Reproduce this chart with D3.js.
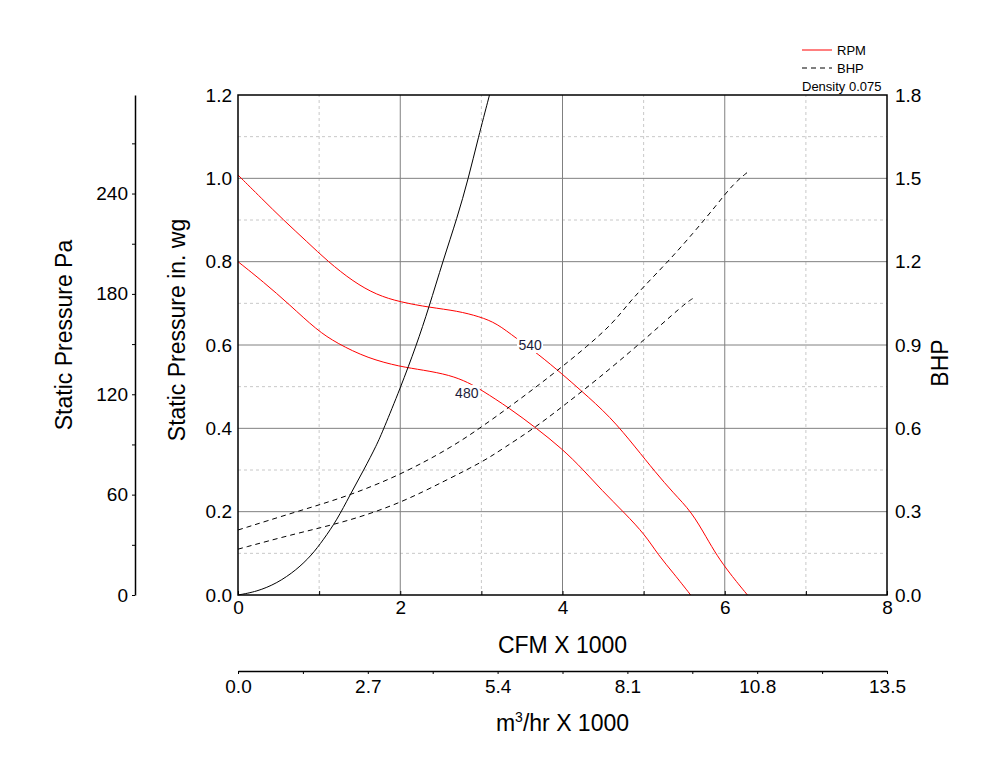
<!DOCTYPE html>
<html>
<head>
<meta charset="utf-8">
<script src="https://d3js.org/d3.v7.min.js"></script>
<style>
body { margin: 0; background: #fff; }
text { font-family: "Liberation Sans", Arial, sans-serif; }
</style>
</head>
<body>
<svg id="drawing_region"></svg>
<script>
// fan curves
const cfm540 = [0, 0.29, 0.56, 0.85, 1.11, 1.42, 1.71, 2.0, 2.37, 2.70, 2.98, 3.19, 3.43, 3.69, 4.01, 4.22, 4.59, 4.91, 5.14, 5.37, 5.59, 5.78, 5.90, 6.06, 6.28];
const sp540 = [1.008, 0.952, 0.90, 0.848, 0.80, 0.752, 0.72, 0.703, 0.69, 0.682, 0.668, 0.652, 0.616, 0.58, 0.528, 0.492, 0.428, 0.352, 0.296, 0.244, 0.2, 0.136, 0.096, 0.052, 0];

const cfm480 = [0, 0.31, 0.64, 0.97, 1.22, 1.6, 2.0, 2.28, 2.61, 2.84, 3.0, 3.35, 3.68, 3.99, 4.26, 4.48, 4.77, 5.02, 5.18, 5.37, 5.58];
const sp480 = [0.80, 0.752, 0.696, 0.636, 0.604, 0.568, 0.548, 0.54, 0.528, 0.51, 0.492, 0.448, 0.40, 0.352, 0.30, 0.252, 0.196, 0.144, 0.096, 0.052, 0];

const cfmSystem = [0, 0.23, 0.48, 0.72, 0.91, 1.05, 1.22, 1.38, 1.55, 1.71, 1.79, 2.0, 2.20, 2.35, 2.53, 2.70, 2.84, 2.96, 3.10];
const spSystem = [0, 0.008, 0.028, 0.06, 0.096, 0.132, 0.18, 0.24, 0.30, 0.36, 0.396, 0.496, 0.60, 0.688, 0.804, 0.904, 1.0, 1.096, 1.2];

const cfmBhp540 = [0, 0.72, 1.34, 2.0, 2.61, 2.98, 3.35, 3.68, 3.97, 4.30, 4.62, 4.80, 5.0, 5.30, 5.61, 5.90, 6.11, 6.29];
const bhp540 = [0.234, 0.30, 0.354, 0.432, 0.528, 0.60, 0.678, 0.75, 0.816, 0.894, 0.978, 1.045, 1.11, 1.20, 1.302, 1.404, 1.482, 1.524];

const cfmBhp480 = [0, 0.72, 1.34, 2.0, 2.57, 3.02, 3.27, 3.68, 4.05, 4.42, 4.96, 5.51, 5.61];
const bhp480 = [0.165, 0.222, 0.264, 0.33, 0.414, 0.48, 0.528, 0.606, 0.69, 0.774, 0.906, 1.05, 1.068];

const rpmLabels = [
    {text: '540', cfm: 3.6, sp: 0.60},
    {text: '480', cfm: 2.82, sp: 0.485}
];

const cfmTicks = [0, 2, 4, 6, 8];
const spTicks = [0, 0.2, 0.4, 0.6, 0.8, 1.0, 1.2];
const bhpTicks = [0, 0.3, 0.6, 0.9, 1.2, 1.5, 1.8];
const paTicks = [0, 60, 120, 180, 240];
const m3Ticks = [0, 2.7, 5.4, 8.1, 10.8, 13.5];

const PA_PER_INWG = 249.09;

class FanChart {

    constructor( config ) {
        this.config = config;
        this.init();
    }

    init() {
        let self = this;
        let m = self.config.margin;

        self.svg = d3.select( self.config.parent )
            .attr('width', self.config.width)
            .attr('height', self.config.height);

        self.inner_width = self.config.width - m.left - m.right;
        self.inner_height = self.config.height - m.top - m.bottom;

        self.xscale = d3.scaleLinear().domain([0, 8]).range([m.left, m.left + self.inner_width]);
        self.yscale = d3.scaleLinear().domain([0, 1.2]).range([m.top + self.inner_height, m.top]);
        self.bhpscale = d3.scaleLinear().domain([0, 1.8]).range([m.top + self.inner_height, m.top]);
        self.pascale = d3.scaleLinear().domain([0, 1.2 * PA_PER_INWG]).range([m.top + self.inner_height, m.top]);
        self.m3scale = d3.scaleLinear().domain([0, 13.5]).range([m.left, m.left + self.inner_width]);
    }

    render() {
        let self = this;
        let m = self.config.margin;
        let x0 = m.left, x1 = m.left + self.inner_width;
        let y0 = m.top + self.inner_height, y1 = m.top;

        // grid
        let grid = self.svg.append('g');
        let minorX = d3.range(1, 8, 2);
        let minorY = d3.range(0.1, 1.2, 0.2);
        grid.selectAll('.mx').data(minorX).join('line')
            .attr('x1', d => self.xscale(d)).attr('x2', d => self.xscale(d))
            .attr('y1', y0).attr('y2', y1)
            .attr('stroke', '#c8c8c8').attr('stroke-dasharray', '3,3');
        grid.selectAll('.my').data(minorY).join('line')
            .attr('y1', d => self.yscale(d)).attr('y2', d => self.yscale(d))
            .attr('x1', x0).attr('x2', x1)
            .attr('stroke', '#c8c8c8').attr('stroke-dasharray', '3,3');
        grid.selectAll('.Mx').data(cfmTicks.slice(1, -1)).join('line')
            .attr('x1', d => self.xscale(d)).attr('x2', d => self.xscale(d))
            .attr('y1', y0).attr('y2', y1)
            .attr('stroke', '#808080');
        grid.selectAll('.My').data(spTicks.slice(1, -1)).join('line')
            .attr('y1', d => self.yscale(d)).attr('y2', d => self.yscale(d))
            .attr('x1', x0).attr('x2', x1)
            .attr('stroke', '#808080');

        // curves (basis smooths the reading noise)
        const line = (xs, ys, yscale) => d3.line()
            .x(i => self.xscale(xs[i]))
            .y(i => yscale(ys[i]))
            .curve(d3.curveBasis)(d3.range(xs.length));

        let curves = self.svg.append('g').attr('fill', 'none');
        curves.append('path').attr('d', line(cfm540, sp540, self.yscale)).attr('stroke', '#ff0000');
        curves.append('path').attr('d', line(cfm480, sp480, self.yscale)).attr('stroke', '#ff0000');
        curves.append('path').attr('d', line(cfmSystem, spSystem, self.yscale)).attr('stroke', '#000');
        curves.append('path').attr('d', line(cfmBhp540, bhp540, self.bhpscale))
            .attr('stroke', '#000').attr('stroke-dasharray', '5,4');
        curves.append('path').attr('d', line(cfmBhp480, bhp480, self.bhpscale))
            .attr('stroke', '#000').attr('stroke-dasharray', '5,4');

        // rpm labels with white backing
        let labels = self.svg.append('g').selectAll('g').data(rpmLabels).join('g')
            .attr('transform', d => `translate(${self.xscale(d.cfm)}, ${self.yscale(d.sp)})`);
        labels.append('rect')
            .attr('x', -13).attr('y', -8).attr('width', 26).attr('height', 16)
            .attr('fill', '#fff');
        labels.append('text')
            .attr('text-anchor', 'middle').attr('dy', '0.35em')
            .attr('font-size', '14px').attr('fill', '#1c1c3c')
            .text(d => d.text);

        // frame
        self.svg.append('rect')
            .attr('x', x0).attr('y', y1)
            .attr('width', self.inner_width).attr('height', self.inner_height)
            .attr('fill', 'none').attr('stroke', '#000').attr('stroke-width', 1.5);

        const tickFont = g => g.selectAll('text').attr('font-size', '19px').attr('fill', '#000');
        const noDomain = g => g.select('.domain').remove();

        // bottom CFM axis (inside ticks)
        self.svg.append('g')
            .attr('transform', `translate(0, ${y0})`)
            .call(d3.axisBottom(self.xscale).tickValues(d3.range(0, 9, 1))
                .tickSize(-4).tickPadding(6)
                .tickFormat(d => cfmTicks.includes(d) ? d : ''))
            .call(noDomain).call(tickFont);

        // left in.wg axis
        self.svg.append('g')
            .attr('transform', `translate(${x0}, 0)`)
            .call(d3.axisLeft(self.yscale).tickValues(spTicks).tickSize(0).tickPadding(6)
                .tickFormat(d3.format('.1f')))
            .call(noDomain).call(tickFont);

        // right BHP axis
        self.svg.append('g')
            .attr('transform', `translate(${x1}, 0)`)
            .call(d3.axisRight(self.bhpscale).tickValues(bhpTicks).tickSize(0).tickPadding(8)
                .tickFormat(d3.format('.1f')))
            .call(noDomain).call(tickFont);

        // far-left Pa axis
        let paAxis = self.svg.append('g')
            .attr('transform', `translate(135, 0)`)
            .call(d3.axisLeft(self.pascale).tickValues(d3.range(0, 300, 30))
                .tickSize(3).tickSizeOuter(0).tickPadding(4)
                .tickFormat(d => paTicks.includes(d) ? d : ''))
            .call(tickFont);
        paAxis.select('.domain').attr('stroke-width', 1.5);

        // m3/hr axis
        let m3Axis = self.svg.append('g')
            .attr('transform', `translate(0, 671)`)
            .call(d3.axisBottom(self.m3scale).tickValues(d3.range(0, 14.85, 1.35))
                .tickSize(3).tickSizeOuter(0).tickPadding(6)
                .tickFormat(d => {
                    let v = m3Ticks.find(t => Math.abs(t - d) < 1e-6);
                    return v === undefined ? '' : d3.format('.1f')(v);
                }))
            .call(tickFont);
        m3Axis.select('.domain').attr('stroke-width', 1.5);

        // axis titles
        self.svg.append('text')
            .attr('x', (x0 + x1) / 2).attr('y', 653)
            .attr('text-anchor', 'middle').attr('font-size', '23px')
            .text('CFM X 1000');
        let m3title = self.svg.append('text')
            .attr('x', (x0 + x1) / 2).attr('y', 731)
            .attr('text-anchor', 'middle').attr('font-size', '23px');
        m3title.append('tspan').text('m');
        m3title.append('tspan').attr('font-size', '14px').attr('dy', -9).text('3');
        m3title.append('tspan').attr('dy', 9).text('/hr X 1000');

        const vtitle = (x, y, t) => self.svg.append('text')
            .attr('transform', `translate(${x}, ${y}) rotate(-90)`)
            .attr('text-anchor', 'middle').attr('font-size', '23px')
            .text(t);
        vtitle(72, 335, 'Static Pressure Pa');
        vtitle(185, 330, 'Static Pressure in. wg');
        vtitle(948, 363, 'BHP');

        // legend
        let legend = self.svg.append('g').attr('font-size', '13px');
        legend.append('line').attr('x1', 802).attr('x2', 832).attr('y1', 50).attr('y2', 50)
            .attr('stroke', '#ff0000');
        legend.append('text').attr('x', 837).attr('y', 55).text('RPM');
        legend.append('line').attr('x1', 802).attr('x2', 832).attr('y1', 68).attr('y2', 68)
            .attr('stroke', '#000').attr('stroke-dasharray', '5,4');
        legend.append('text').attr('x', 837).attr('y', 73).text('BHP');
        legend.append('text').attr('x', 802).attr('y', 91).text('Density 0.075');
    }
}

const chart = new FanChart({
    parent: '#drawing_region',
    width: 1000,
    height: 770,
    margin: {top: 95, right: 113, bottom: 175, left: 238}
});
chart.render();
</script>
</body>
</html>
